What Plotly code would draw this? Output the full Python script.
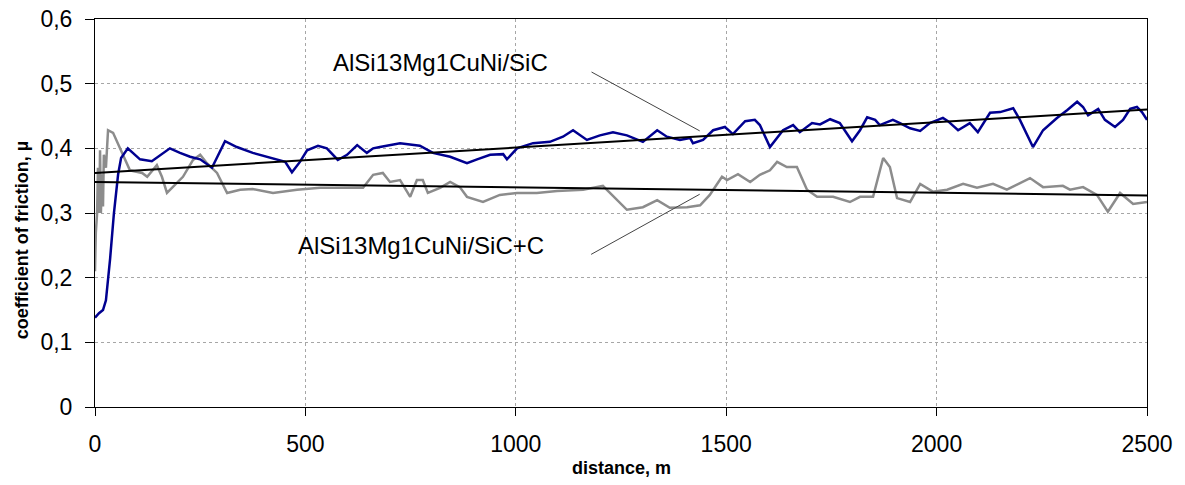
import plotly.graph_objects as go

# ---- data ----
sic_x = [0, 9.5, 19, 26, 36, 45, 55, 62, 78, 107, 135, 178, 202, 226, 250, 278, 309, 337, 375, 423,
         452, 468, 487, 504, 530, 551, 577, 599, 623, 646, 661, 677, 725, 772, 803, 844, 884, 908, 939,
         970, 979, 1003, 1041, 1081, 1112, 1136, 1169, 1200, 1231, 1264, 1288, 1302, 1336, 1359, 1390,
         1414, 1421, 1445, 1469, 1497, 1516, 1545, 1568, 1580, 1604, 1623, 1635, 1659, 1675, 1704, 1723,
         1747, 1770, 1799, 1818, 1835, 1854, 1865, 1896, 1913, 1937, 1961, 1984, 2015, 2027, 2051, 2079,
         2098, 2127, 2151, 2182, 2198, 2229, 2253, 2286, 2310, 2334, 2348, 2360, 2384, 2400, 2424, 2443,
         2460, 2476, 2488, 2500]
sic_y = [0.138, 0.145, 0.150, 0.165, 0.230, 0.300, 0.360, 0.385, 0.400, 0.383, 0.380, 0.400, 0.393,
         0.387, 0.383, 0.370, 0.411, 0.402, 0.393, 0.385, 0.379, 0.363, 0.379, 0.397, 0.404, 0.400,
         0.382, 0.390, 0.405, 0.393, 0.400, 0.402, 0.408, 0.404, 0.393, 0.387, 0.377, 0.383, 0.390,
         0.391, 0.383, 0.400, 0.408, 0.410, 0.418, 0.428, 0.413, 0.420, 0.425, 0.420, 0.413, 0.410,
         0.428, 0.418, 0.413, 0.416, 0.408, 0.413, 0.428, 0.433, 0.422, 0.442, 0.444, 0.436, 0.402,
         0.418, 0.428, 0.436, 0.425, 0.439, 0.437, 0.445, 0.439, 0.411, 0.428, 0.448, 0.444, 0.436,
         0.444, 0.439, 0.431, 0.427, 0.439, 0.447, 0.442, 0.428, 0.439, 0.425, 0.455, 0.456, 0.462,
         0.444, 0.402, 0.428, 0.447, 0.459, 0.472, 0.464, 0.451, 0.461, 0.444, 0.433, 0.444, 0.461,
         0.464, 0.456, 0.444]

sicc_x = [0, 2, 5, 7, 10, 12, 14, 17, 19, 21, 26, 31, 43, 64, 83, 112, 124, 147, 159, 171, 185, 209,
          233, 250, 266, 290, 314, 345, 375, 423, 480, 535, 589, 637, 661, 684, 701, 725, 749, 765, 779,
          791, 820, 844, 867, 884, 922, 962, 1003, 1050, 1098, 1160, 1207, 1240, 1264, 1302, 1336, 1366,
          1407, 1438, 1461, 1490, 1502, 1528, 1557, 1580, 1604, 1621, 1644, 1668, 1692, 1716, 1754, 1794,
          1818, 1849, 1873, 1889, 1906, 1937, 1961, 1991, 2025, 2063, 2096, 2134, 2167, 2222, 2253, 2300,
          2317, 2348, 2381, 2407, 2436, 2467, 2500]
sicc_y = [0.210, 0.270, 0.300, 0.370, 0.300, 0.397, 0.300, 0.360, 0.310, 0.390, 0.370, 0.428, 0.424,
          0.393, 0.366, 0.362, 0.356, 0.374, 0.356, 0.331, 0.340, 0.356, 0.382, 0.390, 0.377, 0.362,
          0.331, 0.336, 0.337, 0.331, 0.336, 0.339, 0.339, 0.339, 0.359, 0.362, 0.348, 0.351, 0.325,
          0.351, 0.351, 0.331, 0.339, 0.348, 0.340, 0.325, 0.317, 0.328, 0.331, 0.331, 0.334, 0.336,
          0.342, 0.320, 0.305, 0.309, 0.320, 0.308, 0.309, 0.312, 0.328, 0.356, 0.351, 0.360, 0.348,
          0.359, 0.366, 0.379, 0.371, 0.371, 0.336, 0.325, 0.325, 0.317, 0.325, 0.325, 0.385, 0.371,
          0.323, 0.317, 0.345, 0.333, 0.336, 0.345, 0.339, 0.345, 0.336, 0.354, 0.340, 0.342, 0.336,
          0.340, 0.328, 0.302, 0.331, 0.314, 0.317]

trend_x = [0, 2500]
trend_sic = [0.362, 0.460]
trend_sicc = [0.348, 0.327]

series_names = ["AlSi13Mg1CuNi/SiC", "AlSi13Mg1CuNi/SiC+C"]

x_ticks = [0, 500, 1000, 1500, 2000, 2500]
y_ticks = [0, 0.1, 0.2, 0.3, 0.4, 0.5, 0.6]
y_tick_labels = ["0", "0,1", "0,2", "0,3", "0,4", "0,5", "0,6"]

# ---- figure ----
FONT = "Liberation Sans, Arial, sans-serif"
fig = go.Figure()
fig.add_trace(go.Scatter(x=sicc_x, y=sicc_y, mode="lines", name=series_names[1],
                         line=dict(color="#8c8c8c", width=2.5)))
fig.add_trace(go.Scatter(x=sic_x, y=sic_y, mode="lines", name=series_names[0],
                         line=dict(color="#000090", width=2.5)))
fig.add_trace(go.Scatter(x=trend_x, y=trend_sic, mode="lines", line=dict(color="black", width=2),
                         showlegend=False))
fig.add_trace(go.Scatter(x=trend_x, y=trend_sicc, mode="lines", line=dict(color="black", width=2),
                         showlegend=False))

# leader lines
fig.add_shape(type="line", x0=1180, y0=0.518, x1=1437, y1=0.427,
              line=dict(color="#444444", width=1))
fig.add_shape(type="line", x0=1179, y0=0.236, x1=1437, y1=0.329,
              line=dict(color="#444444", width=1))

fig.add_annotation(x=822, y=0.533, text=series_names[0], showarrow=False,
                   font=dict(family=FONT, size=24, color="black"))
fig.add_annotation(x=775, y=0.250, text=series_names[1], showarrow=False,
                   font=dict(family=FONT, size=24, color="black"))

# axis titles
fig.add_annotation(xref="paper", yref="paper", x=0, y=0.43, xshift=-73, xanchor="center",
                   yanchor="middle", textangle=-90,
                   text="<b>coefficient of friction, µ</b>", showarrow=False,
                   font=dict(family=FONT, size=18, color="black"))
fig.add_annotation(xref="paper", yref="paper", x=0.5, y=0, yshift=-61, xanchor="center",
                   yanchor="middle",
                   text="<b>distance, m</b>", showarrow=False,
                   font=dict(family=FONT, size=18, color="black"))

fig.update_layout(
    width=1185, height=485,
    margin=dict(l=95, r=38, t=19, b=78, autoexpand=False),
    paper_bgcolor="white", plot_bgcolor="white",
    showlegend=False,
    font=dict(family=FONT, size=23, color="black"),
)
fig.update_xaxes(range=[0, 2500], tickvals=x_ticks, ticks="outside", ticklen=8,
                 tickcolor="black", showline=True, linecolor="black", linewidth=1, mirror=True,
                 showgrid=True, gridcolor="#a6a6a6", griddash="3px,3px", gridwidth=1,
                 zeroline=False, ticklabelstandoff=8, automargin=False)
fig.update_yaxes(range=[0, 0.6], tickvals=y_ticks, ticktext=y_tick_labels, ticks="outside",
                 ticklen=9, tickcolor="black", showline=True, linecolor="black", linewidth=1,
                 mirror=True, showgrid=True, gridcolor="#a6a6a6", griddash="3px,3px", gridwidth=1,
                 zeroline=False, ticklabelstandoff=8, automargin=False)

fig.write_html("out.html", config={"displayModeBar": False},
               post_script="document.body.style.margin='0';")
